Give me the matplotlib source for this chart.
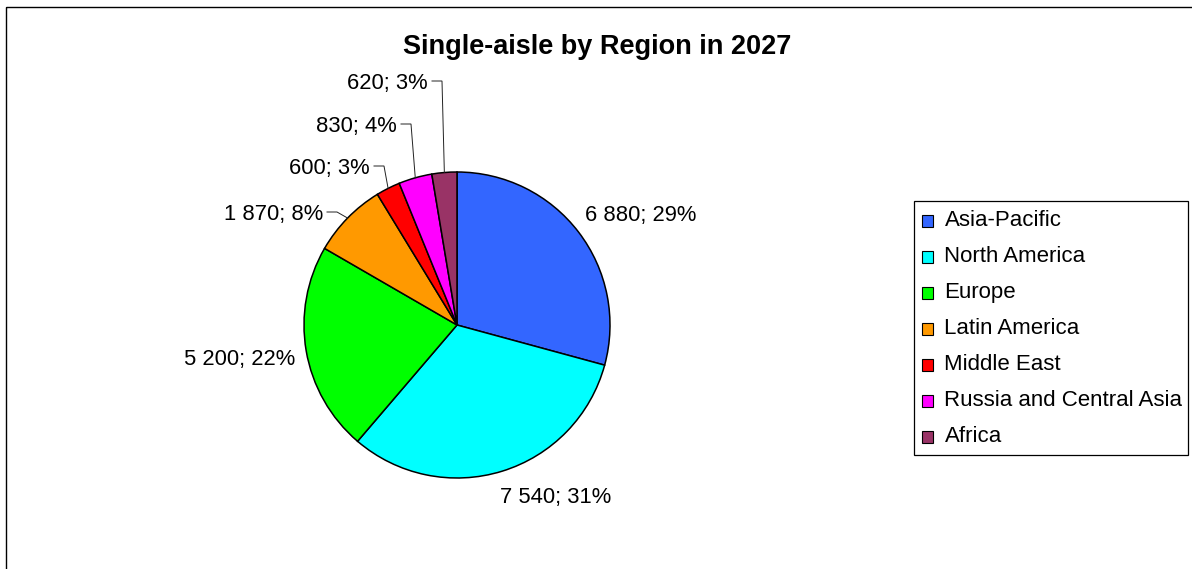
import matplotlib
matplotlib.use("Agg")
import matplotlib.pyplot as plt
from matplotlib.patches import Rectangle
import numpy as np

# Forecast single-aisle deliveries by region, 2027
regions = ["Asia-Pacific", "North America", "Europe", "Latin America",
           "Middle East", "Russia and Central Asia", "Africa"]
aircraft = [6880, 7540, 5200, 1870, 600, 830, 620]
share_pct = [29, 31, 22, 8, 3, 4, 3]
colors = ["#3366FF", "#00FFFF", "#00FF00", "#FF9900",
          "#FF0000", "#FF00FF", "#993366"]
title = "Single-aisle by Region in 2027"

W, H = 1192, 569
plt.rcParams['font.family'] = ['Liberation Sans', 'DejaVu Sans']
fig = plt.figure(figsize=(W / 100, H / 100), dpi=100)
ax = fig.add_axes([0, 0, 1, 1])

# pixel-space axes (y grows downward)
cx, cy, R = 457, 325, 153
wedges, _ = ax.pie(aircraft, colors=colors, center=(cx, cy), radius=R,
                   startangle=-90, counterclock=True,
                   wedgeprops=dict(edgecolor='black', linewidth=1.1))
ax.set_xlim(0, W)
ax.set_ylim(H, 0)
ax.set_aspect('auto')
ax.axis('off')

# outer chart frame
ax.add_patch(Rectangle((5.5, 6.5), W + 20, H + 20, fill=False,
                       edgecolor='black', linewidth=1.0, clip_on=False))

ax.text(597, 54, title, fontsize=19.5, fontweight='bold',
        ha='center', va='baseline')

# data label anchors: (x, y centre, alignment, leader line?)
label_layout = [(585, 213, 'left', False), (500, 495, 'left', False),
                (295, 357, 'right', False), (323, 212, 'right', True),
                (370, 166, 'right', True), (397, 124, 'right', True),
                (428, 81, 'right', True)]
fs = 15.8
for w, v, p, (lx, ly, ha, lead) in zip(wedges, aircraft, share_pct, label_layout):
    txt = f"{v:,}".replace(",", " ") + f"; {p}%"
    ax.text(lx, ly + 7.5, txt, fontsize=fs, ha=ha, va='baseline')
    if lead:
        mid = np.deg2rad((w.theta1 + w.theta2) / 2)
        ex, ey = cx + R * np.cos(mid), cy + R * np.sin(mid)
        ax.plot([lx + 4, lx + 14, ex], [ly, ly, ey], color='#222222',
                linewidth=0.7, solid_joinstyle='miter')

# legend box
ax.add_patch(Rectangle((913.5, 201), 274, 254, facecolor='white',
                       edgecolor='black', linewidth=0.9))
for i, (name, c) in enumerate(zip(regions, colors)):
    base = 226 + i * 36.0
    ax.add_patch(Rectangle((921.5, base - 11), 11.5, 11.5, facecolor=c,
                           edgecolor='black', linewidth=0.8))
    ax.text(944.5, base, name, fontsize=16.0, ha='left', va='baseline')

fig.savefig("out.png", dpi=100, facecolor='white')
